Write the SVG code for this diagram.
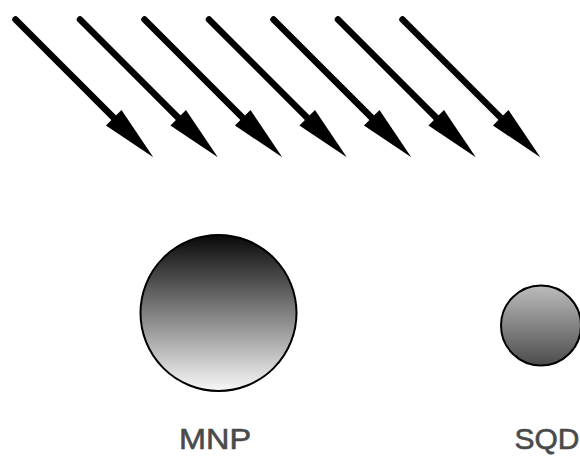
<svg xmlns="http://www.w3.org/2000/svg" width="580" height="456" viewBox="0 0 580 456">
  <style>
    .ray { stroke: #000; stroke-width: 6.5; stroke-linecap: round; fill: none; marker-end: url(#head); }
    .ball { stroke: #000; stroke-width: 2; }
    .label { font-family: "Liberation Sans", Arial, sans-serif; font-size: 30px; fill: #4a4a4a; stroke: #4a4a4a; stroke-width: 0.6; text-anchor: middle; }
  </style>
  <defs>
    <marker id="head" markerUnits="userSpaceOnUse" viewBox="0 -12 60 24" markerWidth="60" markerHeight="24" refX="20" refY="0" orient="auto" overflow="visible">
      <path d="M0,-11 L56,0 L0,11 Z" fill="#000"/>
    </marker>
    <linearGradient id="gradBig" x1="0" y1="0" x2="0" y2="1">
      <stop offset="0" stop-color="#080808"/>
      <stop offset="1" stop-color="#f8f8f8"/>
    </linearGradient>
    <linearGradient id="gradSmall" x1="0" y1="0" x2="0" y2="1">
      <stop offset="0" stop-color="#bcbcbc"/>
      <stop offset="1" stop-color="#4c4c4c"/>
    </linearGradient>
  </defs>

  <!-- incoming rays, 45 degrees, spaced 64.5 px apart -->
  <g id="connectors">
    <line class="ray" x1="15.5" y1="19.5" x2="127.85" y2="131.85"/>
    <line class="ray" x1="80" y1="19.5" x2="192.35" y2="131.85"/>
    <line class="ray" x1="144.5" y1="19.5" x2="256.85" y2="131.85"/>
    <line class="ray" x1="209" y1="19.5" x2="321.35" y2="131.85"/>
    <line class="ray" x1="273.5" y1="19.5" x2="385.85" y2="131.85"/>
    <line class="ray" x1="338" y1="19.5" x2="450.35" y2="131.85"/>
    <line class="ray" x1="402.5" y1="19.5" x2="514.85" y2="131.85"/>
  </g>

  <g id="mnp">
    <circle class="ball" cx="218.5" cy="313" r="78" fill="url(#gradBig)"/>
    <text class="label" x="215" y="449" textLength="72" lengthAdjust="spacingAndGlyphs">MNP</text>
  </g>

  <g id="sqd">
    <circle class="ball" cx="541" cy="325.5" r="40" fill="url(#gradSmall)"/>
    <text class="label" x="547" y="449">SQD</text>
  </g>
</svg>
